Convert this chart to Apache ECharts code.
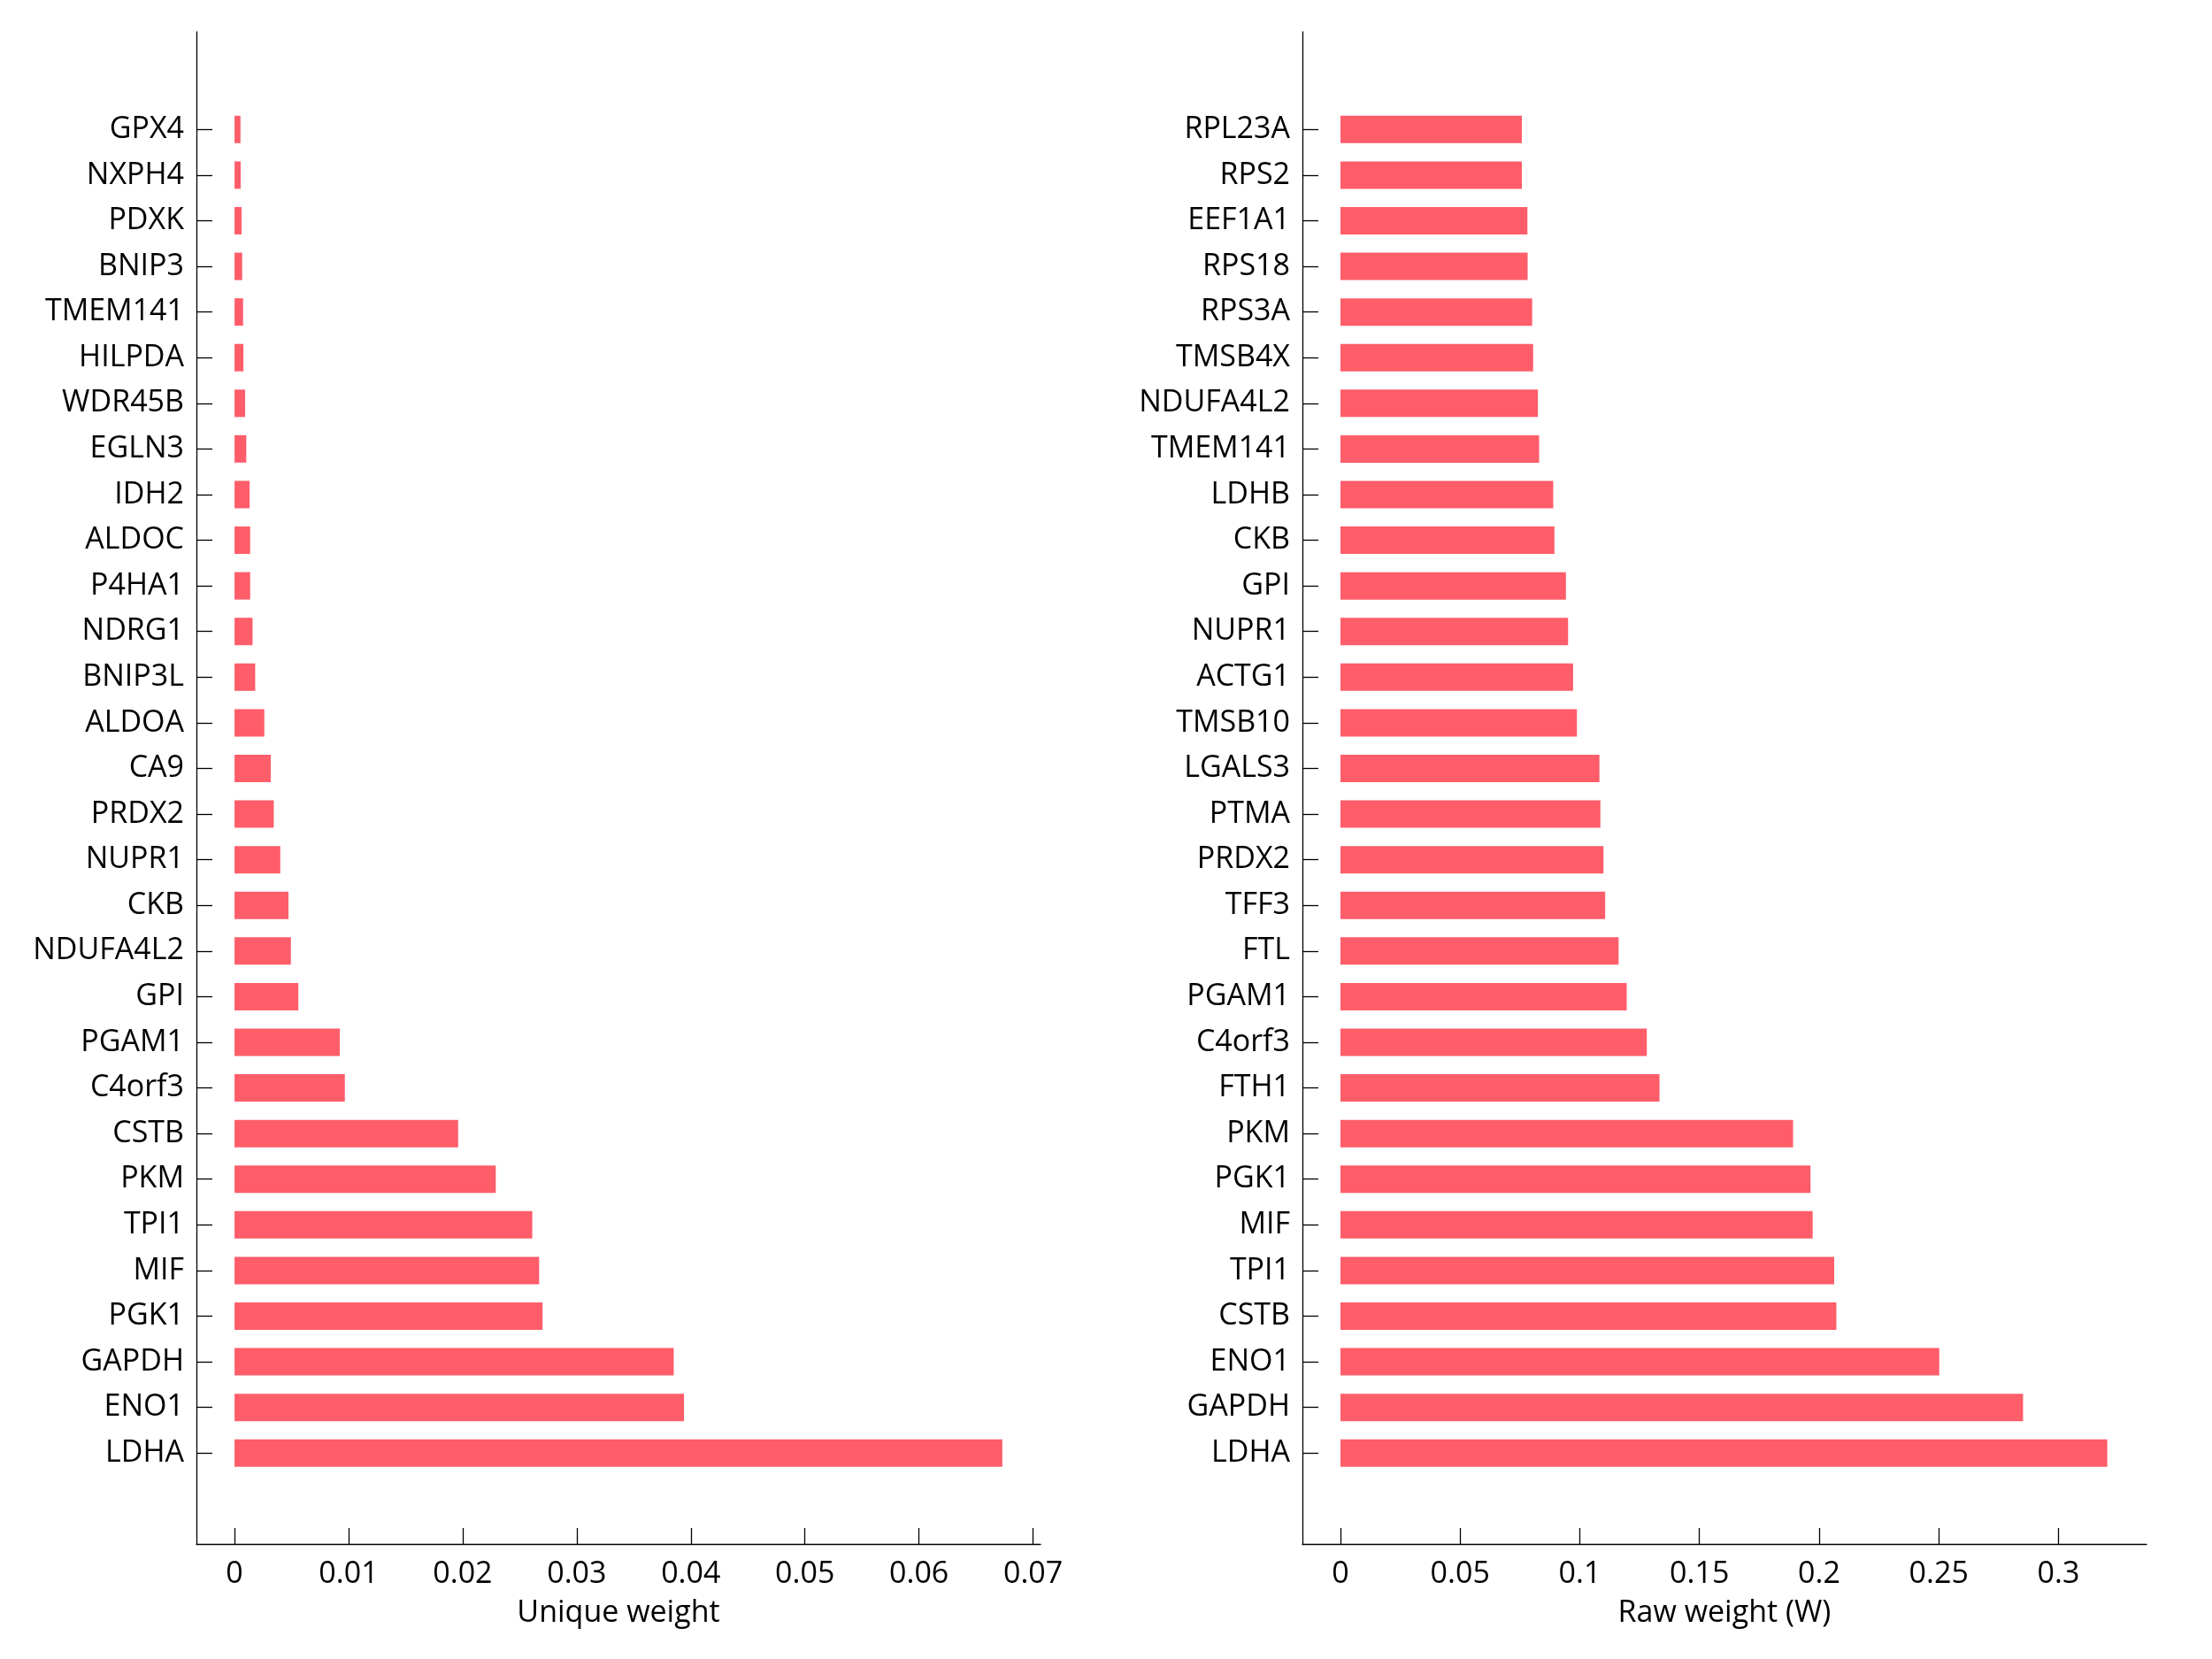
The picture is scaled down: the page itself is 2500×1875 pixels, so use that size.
<!DOCTYPE html>
<html>
<head>
<meta charset="utf-8">
<script src="https://cdn.jsdelivr.net/npm/echarts@6/dist/echarts.min.js"></script>
<style>
html,body{margin:0;padding:0;background:#fff;}
#chart{width:2500px;height:1875px;}
</style>
</head>
<body>
<div id="chart"></div>
<script>
const categoriesLeft = ['GPX4','NXPH4','PDXK','BNIP3','TMEM141','HILPDA','WDR45B','EGLN3','IDH2','ALDOC','P4HA1','NDRG1','BNIP3L','ALDOA','CA9','PRDX2','NUPR1','CKB','NDUFA4L2','GPI','PGAM1','C4orf3','CSTB','PKM','TPI1','MIF','PGK1','GAPDH','ENO1','LDHA'];
const valuesLeft = [0.00052,0.00054,0.00062,0.00067,0.00075,0.00078,0.00093,0.00103,0.00132,0.00137,0.00137,0.00158,0.00181,0.00261,0.00318,0.00344,0.00401,0.00473,0.00494,0.00559,0.00923,0.00967,0.0196,0.0229,0.0261,0.0267,0.0270,0.0385,0.0394,0.0673];
const categoriesRight = ['RPL23A','RPS2','EEF1A1','RPS18','RPS3A','TMSB4X','NDUFA4L2','TMEM141','LDHB','CKB','GPI','NUPR1','ACTG1','TMSB10','LGALS3','PTMA','PRDX2','TFF3','FTL','PGAM1','C4orf3','FTH1','PKM','PGK1','MIF','TPI1','CSTB','ENO1','GAPDH','LDHA'];
const valuesRight = [0.0758,0.0758,0.0781,0.0782,0.0801,0.0805,0.0825,0.0830,0.0889,0.0894,0.0942,0.0951,0.0972,0.0988,0.1082,0.1086,0.1099,0.1106,0.1162,0.1196,0.1280,0.1333,0.1891,0.1964,0.1973,0.2063,0.2072,0.2502,0.2852,0.3204];
const ticksLeft = [0,0.01,0.02,0.03,0.04,0.05,0.06,0.07];
const ticksRight = [0,0.05,0.1,0.15,0.2,0.25,0.3];
const nameLeft = 'Unique weight';
const nameRight = 'Raw weight (W)';

const FONT = 'Open Sans';
const FS = 34;
const BAR = '#ff5d6a';
const plotW = 954;
const bandTop = 120.5, bandH = 1547.5;
const frameTop = 36, frameH = 1709;

function bandY(cats){
  return {
    type:'category', inverse:true, data:cats,
    axisLine:{show:false,onZero:false},
    axisTick:{show:true,inside:true,length:18,alignWithLabel:true,lineStyle:{color:'#000',width:1.3}},
    axisLabel:{show:true,margin:14,color:'#000',fontFamily:FONT,fontSize:FS},
    splitLine:{show:false}
  };
}
function frameY(){
  return {
    type:'value', min:0, max:1,
    axisLine:{show:true,onZero:false,lineStyle:{color:'#000',width:1.3}},
    axisTick:{show:false}, axisLabel:{show:false}, splitLine:{show:false}
  };
}
function bandX(mn,mx){
  return {type:'value',min:mn,max:mx,show:false,splitLine:{show:false}};
}
function frameX(mn,mx,ticks,name){
  return {
    type:'value', min:mn, max:mx,
    name:name, nameLocation:'middle', nameGap:61,
    nameTextStyle:{color:'#000',fontFamily:FONT,fontSize:FS},
    axisLine:{show:true,onZero:false,lineStyle:{color:'#000',width:1.3}},
    axisTick:{show:true,inside:true,length:18,customValues:ticks,lineStyle:{color:'#000',width:1.3}},
    axisLabel:{show:true,margin:17,customValues:ticks,color:'#000',fontFamily:FONT,fontSize:FS,
      formatter:function(v){return String(+v.toFixed(4));}},
    splitLine:{show:false}
  };
}

const xL = [-0.00334, 0.07065];
const xR = [-0.0159, 0.3368];

const option = {
  animation:false,
  backgroundColor:'#fff',
  grid:[
    {left:222, top:bandTop, width:plotW, height:bandH},
    {left:222, top:frameTop, width:plotW, height:frameH},
    {left:1472, top:bandTop, width:plotW, height:bandH},
    {left:1472, top:frameTop, width:plotW, height:frameH}
  ],
  xAxis:[
    Object.assign(bandX(xL[0],xL[1]),{gridIndex:0}),
    Object.assign(frameX(xL[0],xL[1],ticksLeft,nameLeft),{gridIndex:1}),
    Object.assign(bandX(xR[0],xR[1]),{gridIndex:2}),
    Object.assign(frameX(xR[0],xR[1],ticksRight,nameRight),{gridIndex:3})
  ],
  yAxis:[
    Object.assign(bandY(categoriesLeft),{gridIndex:0}),
    Object.assign(frameY(),{gridIndex:1}),
    Object.assign(bandY(categoriesRight),{gridIndex:2}),
    Object.assign(frameY(),{gridIndex:3})
  ],
  series:[
    {type:'bar',xAxisIndex:0,yAxisIndex:0,data:valuesLeft,barWidth:31,itemStyle:{color:BAR},silent:true},
    {type:'bar',xAxisIndex:2,yAxisIndex:2,data:valuesRight,barWidth:31,itemStyle:{color:BAR},silent:true}
  ]
};
const chart = echarts.init(document.getElementById('chart'),null,{renderer:'canvas'});
chart.setOption(option);
</script>
</body>
</html>
